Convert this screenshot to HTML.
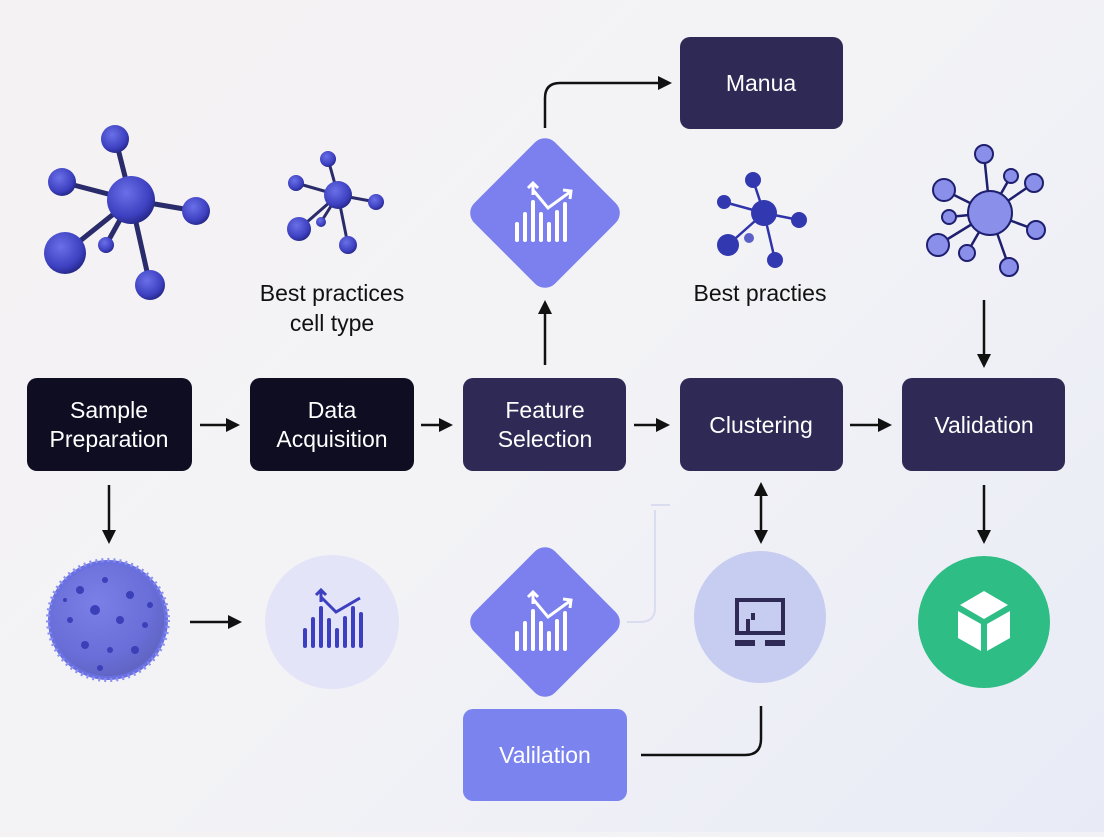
<!DOCTYPE html>
<html><head><meta charset="utf-8"><style>
html,body{margin:0;padding:0}
body{width:1104px;height:832px;overflow:hidden;background:linear-gradient(135deg,#f4f2f2 0%,#f3f3f6 50%,#e8ebf6 100%);font-family:"Liberation Sans",sans-serif}
</style></head><body>
<svg width="1104" height="832" viewBox="0 0 1104 832" xmlns="http://www.w3.org/2000/svg" font-family="Liberation Sans, sans-serif">
<defs>
<radialGradient id="ball" cx="0.4" cy="0.35" r="0.7"><stop offset="0" stop-color="#6a70e8"/><stop offset="0.7" stop-color="#3d40c0"/><stop offset="1" stop-color="#222480"/></radialGradient>
<marker id="ah" markerWidth="8" markerHeight="8" refX="5" refY="4" orient="auto" markerUnits="userSpaceOnUse"><path d="M0,0 L8,4 L0,8 Z" fill="#111"/></marker>
<marker id="ah2" markerWidth="14" markerHeight="14" refX="10" refY="7" orient="auto-start-reverse" markerUnits="userSpaceOnUse"><path d="M0,0 L14,7 L0,14 Z" fill="#111"/></marker>
</defs>
<!-- molecule 1 -->
<g stroke="#2a2b6a" stroke-width="5">
<line x1="131" y1="200" x2="115" y2="137"/><line x1="131" y1="200" x2="62" y2="182"/><line x1="131" y1="200" x2="196" y2="211"/><line x1="131" y1="200" x2="65" y2="253"/><line x1="131" y1="200" x2="106" y2="245"/><line x1="131" y1="200" x2="150" y2="285"/>
</g>
<g fill="url(#ball)"><circle cx="131" cy="200" r="24"/><circle cx="115" cy="139" r="14"/><circle cx="62" cy="182" r="14"/><circle cx="196" cy="211" r="14"/><circle cx="65" cy="253" r="21"/><circle cx="106" cy="245" r="8"/><circle cx="150" cy="285" r="15"/></g>
<!-- molecule 2 -->
<g stroke="#2a2b6a" stroke-width="3"><line x1="338" y1="195" x2="328" y2="159"/><line x1="338" y1="195" x2="296" y2="183"/><line x1="338" y1="195" x2="376" y2="202"/><line x1="338" y1="195" x2="299" y2="229"/><line x1="338" y1="195" x2="321" y2="222"/><line x1="338" y1="195" x2="348" y2="245"/></g>
<g fill="url(#ball)"><circle cx="338" cy="195" r="14"/><circle cx="328" cy="159" r="8"/><circle cx="296" cy="183" r="8"/><circle cx="376" cy="202" r="8"/><circle cx="299" cy="229" r="12"/><circle cx="321" cy="222" r="5"/><circle cx="348" cy="245" r="9"/></g>
<text x="332" y="301" font-size="23" text-anchor="middle" fill="#111">Best practices</text>
<text x="332" y="331" font-size="23" text-anchor="middle" fill="#111">cell type</text>
<!-- molecule 3 -->
<g stroke="#2f35a8" stroke-width="2.5"><line x1="764" y1="213" x2="753" y2="180"/><line x1="764" y1="213" x2="724" y2="202"/><line x1="764" y1="213" x2="799" y2="220"/><line x1="764" y1="213" x2="728" y2="245"/><line x1="764" y1="213" x2="775" y2="260"/></g>
<g fill="#3238b0"><circle cx="764" cy="213" r="13"/><circle cx="753" cy="180" r="8"/><circle cx="724" cy="202" r="7"/><circle cx="799" cy="220" r="8"/><circle cx="728" cy="245" r="11"/><circle cx="749" cy="238" r="5" fill="#5a60c8"/><circle cx="775" cy="260" r="8"/></g>
<text x="760" y="301" font-size="23" text-anchor="middle" fill="#111">Best practies</text>
<!-- molecule 4 -->
<g stroke="#1e1f6e" stroke-width="2.5"><line x1="990" y1="213" x2="984" y2="154"/><line x1="990" y1="213" x2="1011" y2="176"/><line x1="990" y1="213" x2="1034" y2="183"/><line x1="990" y1="213" x2="944" y2="190"/><line x1="990" y1="213" x2="949" y2="217"/><line x1="990" y1="213" x2="1036" y2="230"/><line x1="990" y1="213" x2="938" y2="245"/><line x1="990" y1="213" x2="967" y2="253"/><line x1="990" y1="213" x2="1009" y2="267"/></g>
<g fill="#8a90ea" stroke="#1e1f6e" stroke-width="2"><circle cx="990" cy="213" r="22"/><circle cx="984" cy="154" r="9"/><circle cx="1011" cy="176" r="7"/><circle cx="1034" cy="183" r="9"/><circle cx="944" cy="190" r="11"/><circle cx="949" cy="217" r="7"/><circle cx="1036" cy="230" r="9"/><circle cx="938" cy="245" r="11"/><circle cx="967" cy="253" r="8"/><circle cx="1009" cy="267" r="9"/></g>
<!-- top Manua -->
<rect x="680" y="37" width="163" height="92" rx="10" fill="#2e2a55"/>
<text x="761" y="91" font-size="23" text-anchor="middle" fill="#fff">Manua</text>
<path d="M545,128 V98 Q545,83 560,83 H668" fill="none" stroke="#111" stroke-width="2.5" marker-end="url(#ah2)"/>
<!-- top diamond -->
<rect x="488" y="156" width="114" height="114" rx="14" fill="#7b80ee" transform="rotate(45 545 213)"/>
<g fill="#fff"><rect x="515" y="222" width="4" height="20" rx="2"/><rect x="523" y="212" width="4" height="30" rx="2"/><rect x="531" y="200" width="4" height="42" rx="2"/><rect x="539" y="212" width="4" height="30" rx="2"/><rect x="547" y="222" width="4" height="20" rx="2"/><rect x="555" y="210" width="4" height="32" rx="2"/><rect x="563" y="202" width="4" height="40" rx="2"/></g>
<path d="M533,190 L548,208 L570,192 M533,183 L533,195 M528,188 L533,183 L538,188 M563,190 L571,191 L570,199" fill="none" stroke="#fff" stroke-width="3"/>
<line x1="545" y1="365" x2="545" y2="304" stroke="#111" stroke-width="2.5" marker-end="url(#ah2)"/>
<!-- main row -->
<rect x="27" y="378" width="165" height="93" rx="10" fill="#0f0d22"/>
<text x="109" y="418" font-size="23" text-anchor="middle" fill="#fff">Sample</text>
<text x="109" y="447" font-size="23" text-anchor="middle" fill="#fff">Preparation</text>
<rect x="250" y="378" width="164" height="93" rx="10" fill="#0f0d22"/>
<text x="332" y="418" font-size="23" text-anchor="middle" fill="#fff">Data</text>
<text x="332" y="447" font-size="23" text-anchor="middle" fill="#fff">Acquisition</text>
<rect x="463" y="378" width="163" height="93" rx="10" fill="#2e2a55"/>
<text x="545" y="418" font-size="23" text-anchor="middle" fill="#fff">Feature</text>
<text x="545" y="447" font-size="23" text-anchor="middle" fill="#fff">Selection</text>
<rect x="680" y="378" width="163" height="93" rx="10" fill="#2e2a55"/>
<text x="761" y="433" font-size="23" text-anchor="middle" fill="#fff">Clustering</text>
<rect x="902" y="378" width="163" height="93" rx="10" fill="#2e2a55"/>
<text x="984" y="433" font-size="23" text-anchor="middle" fill="#fff">Validation</text>
<g stroke="#111" stroke-width="2.5" fill="none">
<line x1="200" y1="425" x2="236" y2="425" marker-end="url(#ah2)"/>
<line x1="421" y1="425" x2="449" y2="425" marker-end="url(#ah2)"/>
<line x1="634" y1="425" x2="666" y2="425" marker-end="url(#ah2)"/>
<line x1="850" y1="425" x2="888" y2="425" marker-end="url(#ah2)"/>
<line x1="984" y1="300" x2="984" y2="364" marker-end="url(#ah2)"/>
<line x1="109" y1="485" x2="109" y2="540" marker-end="url(#ah2)"/>
<line x1="190" y1="622" x2="238" y2="622" marker-end="url(#ah2)"/>
<line x1="761" y1="486" x2="761" y2="540" marker-start="url(#ah2)" marker-end="url(#ah2)"/>
<line x1="984" y1="485" x2="984" y2="540" marker-end="url(#ah2)"/>
<path d="M641,755 H745 Q761,755 761,739 V706"/>
</g>
<path d="M651,505 H670 M655,510 V608 Q655,622 640,622 H627" fill="none" stroke="#dadcf0" stroke-width="2"/>
<!-- virus -->
<g fill="#6a70e0">
<circle cx="108" cy="620" r="60" fill="#6a70e0" stroke="#8a90f0" stroke-width="4" stroke-dasharray="2 4"/>
</g>
<circle cx="108" cy="620" r="56" fill="url(#ball)" opacity="0.75"/>
<circle cx="108" cy="620" r="56" fill="#8a8fe8" opacity="0.5"/>
<g fill="#3b3fb8"><circle cx="80" cy="590" r="4"/><circle cx="105" cy="580" r="3"/><circle cx="130" cy="595" r="4"/><circle cx="70" cy="620" r="3"/><circle cx="95" cy="610" r="5"/><circle cx="120" cy="620" r="4"/><circle cx="145" cy="625" r="3"/><circle cx="85" cy="645" r="4"/><circle cx="110" cy="650" r="3"/><circle cx="135" cy="650" r="4"/><circle cx="100" cy="668" r="3"/><circle cx="65" cy="600" r="2"/><circle cx="150" cy="605" r="3"/></g>
<!-- circles -->
<circle cx="332" cy="622" r="67" fill="#e3e4f8"/>
<g fill="#3b3fc0"><rect x="303" y="628" width="4" height="20" rx="2"/><rect x="311" y="617" width="4" height="31" rx="2"/><rect x="319" y="606" width="4" height="42" rx="2"/><rect x="327" y="618" width="4" height="30" rx="2"/><rect x="335" y="628" width="4" height="20" rx="2"/><rect x="343" y="616" width="4" height="32" rx="2"/><rect x="351" y="606" width="4" height="42" rx="2"/><rect x="359" y="612" width="4" height="36" rx="2"/></g>
<path d="M321,597 L336,612 L360,598 M321,590 L321,602 M316,595 L321,590 L326,595" fill="none" stroke="#3b3fc0" stroke-width="3"/>
<circle cx="760" cy="617" r="66" fill="#c7ccf1"/>
<rect x="737" y="600" width="46" height="33" fill="none" stroke="#2e2a55" stroke-width="4"/>
<rect x="751" y="613" width="4" height="7" fill="#2e2a55"/><rect x="746" y="619" width="4" height="14" fill="#2e2a55"/>
<rect x="735" y="640" width="20" height="6" fill="#2e2a55"/><rect x="765" y="640" width="20" height="6" fill="#2e2a55"/>
<circle cx="984" cy="622" r="66" fill="#2ebd85"/>
<path d="M984,591 L1008,605 L984,619 L960,605 Z" fill="#fff"/>
<path d="M958,611 L981,624 L981,651 L958,638 Z M987,624 L1010,611 L1010,638 L987,651 Z" fill="#fff"/>
<!-- bottom diamond -->
<rect x="488" y="565" width="114" height="114" rx="14" fill="#7b80ee" transform="rotate(45 545 622)"/>
<g fill="#fff"><rect x="515" y="631" width="4" height="20" rx="2"/><rect x="523" y="621" width="4" height="30" rx="2"/><rect x="531" y="609" width="4" height="42" rx="2"/><rect x="539" y="621" width="4" height="30" rx="2"/><rect x="547" y="631" width="4" height="20" rx="2"/><rect x="555" y="619" width="4" height="32" rx="2"/><rect x="563" y="611" width="4" height="40" rx="2"/></g>
<path d="M533,599 L548,617 L570,601 M533,592 L533,604 M528,597 L533,592 L538,597 M563,599 L571,600 L570,608" fill="none" stroke="#fff" stroke-width="3"/>
<rect x="463" y="709" width="164" height="92" rx="10" fill="#7b84ee"/>
<text x="545" y="763" font-size="23" text-anchor="middle" fill="#fff">Valilation</text>
</svg>
</body></html>
